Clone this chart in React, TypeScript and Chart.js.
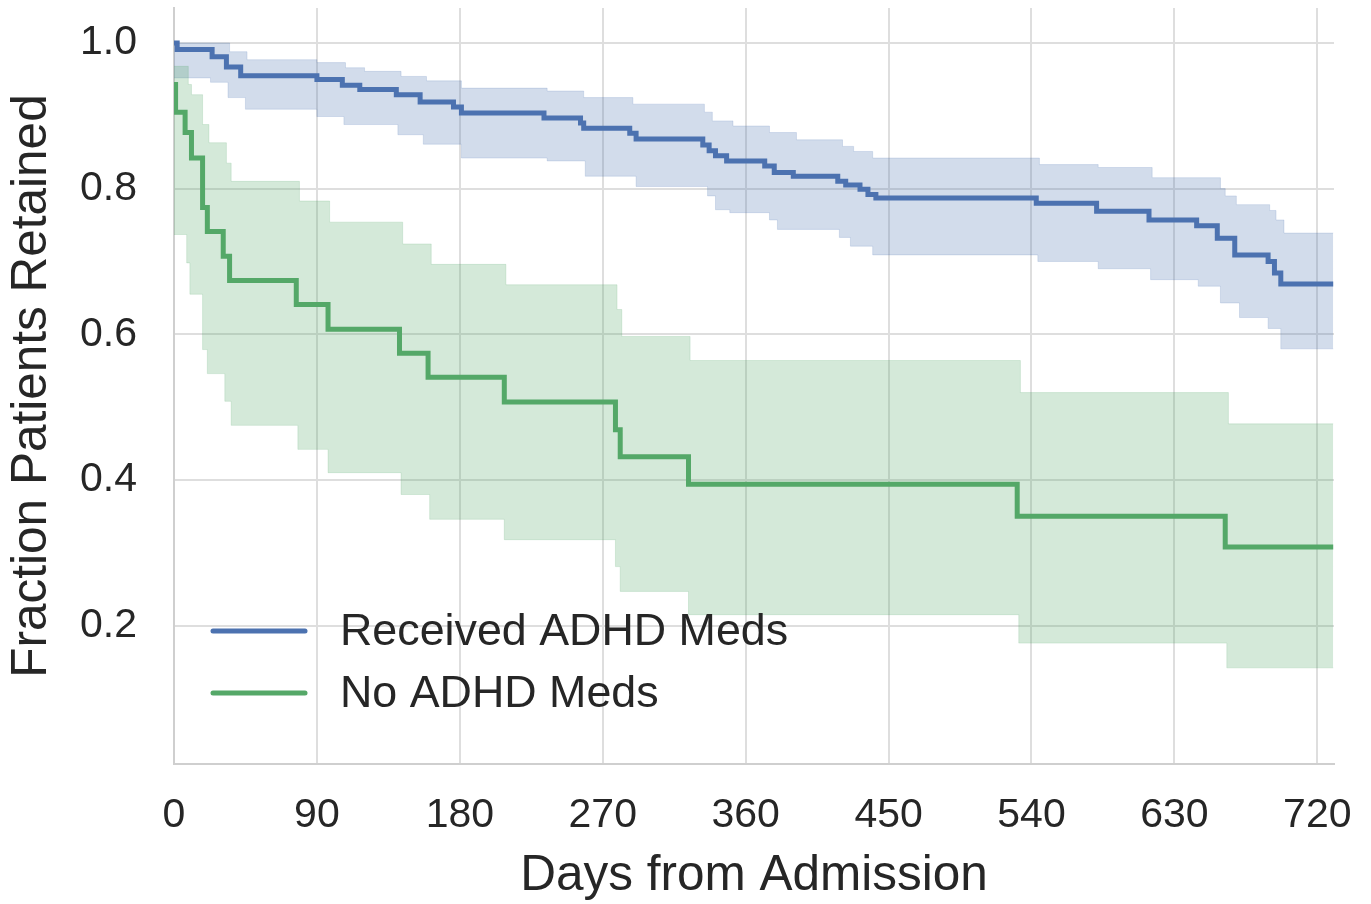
import React, { useEffect, useRef } from 'react';
import { Chart, registerables } from 'chart.js';

Chart.register(...registerables);

// ---- data ----
const xTicks = [0, 90, 180, 270, 360, 450, 540, 630, 720];
const yTicks = [0.2, 0.4, 0.6, 0.8, 1.0];
const seriesLabels = ['Received ADHD Meds', 'No ADHD Meds'];

const medsTimes = [0, 2, 24, 33, 42, 90, 106, 117, 140, 155, 176, 181, 233, 256, 258, 287, 291, 333, 337, 341, 348, 372, 378, 390, 418, 423, 432, 437, 442, 543, 581, 614, 644, 657, 668, 689, 693, 697, 730];
const medsSurvival = [1.0, 0.991, 0.981, 0.967, 0.955, 0.95, 0.942, 0.936, 0.929, 0.919, 0.912, 0.904, 0.897, 0.89, 0.883, 0.876, 0.868, 0.86, 0.852, 0.845, 0.838, 0.831, 0.822, 0.817, 0.81, 0.805, 0.799, 0.792, 0.787, 0.78, 0.769, 0.757, 0.749, 0.732, 0.709, 0.7, 0.684, 0.669, 0.669];

const medsUpperTimes = [0, 35, 46, 90, 108, 120, 143, 159, 181, 235, 258, 289, 334, 339, 352, 375, 392, 421, 428, 440, 545, 582, 616, 659, 662, 669, 690, 694, 699, 730];
const medsUpper = [1.0, 0.988, 0.977, 0.973, 0.966, 0.961, 0.954, 0.948, 0.938, 0.934, 0.925, 0.916, 0.905, 0.893, 0.886, 0.877, 0.867, 0.858, 0.851, 0.842, 0.833, 0.829, 0.815, 0.8, 0.79, 0.778, 0.77, 0.757, 0.739, 0.739];

const medsLowerTimes = [0, 23, 34, 45, 90, 107, 141, 157, 181, 235, 259, 291, 336, 341, 350, 375, 380, 419, 426, 440, 544, 582, 615, 645, 659, 671, 689, 697, 730];
const medsLower = [0.952, 0.946, 0.925, 0.909, 0.899, 0.888, 0.874, 0.861, 0.842, 0.838, 0.817, 0.803, 0.79, 0.771, 0.767, 0.757, 0.744, 0.733, 0.721, 0.709, 0.7, 0.69, 0.675, 0.666, 0.643, 0.623, 0.608, 0.58, 0.58];

const noMedsTimes = [0, 1, 7, 11, 18, 21, 31, 35, 77, 97, 142, 160, 208, 278, 281, 324, 531, 662, 730];
const noMedsSurvival = [0.943, 0.905, 0.877, 0.842, 0.774, 0.741, 0.707, 0.674, 0.641, 0.607, 0.574, 0.541, 0.507, 0.469, 0.432, 0.394, 0.35, 0.308, 0.308];

const noMedsUpperTimes = [0, 9, 11, 18, 22, 33, 36, 79, 98, 144, 162, 209, 279, 282, 325, 533, 664, 730];
const noMedsUpper = [0.968, 0.943, 0.929, 0.888, 0.863, 0.835, 0.81, 0.783, 0.754, 0.724, 0.696, 0.668, 0.634, 0.597, 0.564, 0.52, 0.477, 0.477];

const noMedsLowerTimes = [0, 8, 10, 18, 21, 32, 36, 78, 97, 143, 161, 208, 278, 281, 324, 532, 663, 730];
const noMedsLower = [0.737, 0.698, 0.655, 0.579, 0.546, 0.508, 0.475, 0.442, 0.41, 0.38, 0.346, 0.318, 0.281, 0.247, 0.215, 0.176, 0.142, 0.142];

// ---- styles ----
const FONT = "'Liberation Sans', Arial, Helvetica, sans-serif";
const TEXT = '#262626';
const BLUE = '#4C72B0';
const GREEN = '#55A868';
const BLUE_BAND = 'rgba(76,114,176,0.25)';
const GREEN_BAND = 'rgba(85,168,104,0.25)';
const GRID = '#dedede';
const SPINE = '#cfcfcf';

const pts = (xs: number[], ys: number[]) => xs.map((x, i) => ({ x, y: ys[i] }));

const legendPlugin = {
  id: 'kmLegend',
  afterDraw(chart: any) {
    const { ctx, chartArea } = chart;
    const colors = [BLUE, GREEN];
    const rows = [chartArea.bottom - 133, chartArea.bottom - 71];
    ctx.save();
    seriesLabels.forEach((label, i) => {
      const y = rows[i];
      ctx.strokeStyle = colors[i];
      ctx.lineWidth = 5;
      ctx.lineCap = 'round';
      ctx.beginPath();
      ctx.moveTo(chartArea.left + 39, y);
      ctx.lineTo(chartArea.left + 131, y);
      ctx.stroke();
      ctx.fillStyle = TEXT;
      ctx.font = `44.8px ${FONT}`;
      ctx.textBaseline = 'middle';
      ctx.textAlign = 'left';
      ctx.fillText(label, chartArea.left + 166, y + 2);
    });
    ctx.restore();
  },
};

export default function App() {
  const ref = useRef<HTMLCanvasElement | null>(null);

  useEffect(() => {
    document.body.style.margin = '0';
    if (!ref.current) return;
    const band = (data: any, color: string, edge: string, fill: any) => ({
      data,
      stepped: true,
      fill,
      backgroundColor: color,
      borderColor: edge,
      borderWidth: 1,
      pointRadius: 0,
      tension: 0,
    });
    const chart = new Chart(ref.current, {
      type: 'line',
      data: {
        datasets: [
          band(pts(noMedsUpperTimes, noMedsUpper), GREEN_BAND, 'rgba(85,168,104,0.18)', '+1'),
          band(pts(noMedsLowerTimes, noMedsLower), GREEN_BAND, 'rgba(85,168,104,0.18)', false),
          band(pts(medsUpperTimes, medsUpper), BLUE_BAND, 'rgba(76,114,176,0.18)', '+1'),
          band(pts(medsLowerTimes, medsLower), BLUE_BAND, 'rgba(76,114,176,0.18)', false),
          {
            label: seriesLabels[0],
            data: pts(medsTimes, medsSurvival),
            stepped: true,
            fill: false,
            borderColor: BLUE,
            borderWidth: 5,
            pointRadius: 0,
          },
          {
            label: seriesLabels[1],
            data: pts(noMedsTimes, noMedsSurvival),
            stepped: true,
            fill: false,
            borderColor: GREEN,
            borderWidth: 5,
            pointRadius: 0,
          },
        ],
      },
      options: {
        animation: false,
        responsive: false,
        devicePixelRatio: 1,
        events: [],
        layout: { padding: { top: 8, right: 37, left: 0, bottom: 0 } },
        plugins: {
          legend: { display: false },
          tooltip: { enabled: false },
          title: { display: false },
        },
        scales: {
          x: {
            type: 'linear',
            min: 0,
            max: 730.5,
            afterBuildTicks: (s: any) => {
              s.ticks = xTicks.map((v) => ({ value: v }));
            },
            afterFit: (s: any) => {
              s.height = 140;
              s.paddingLeft = 0;
              s.paddingRight = 0;
              s.paddingTop = 0;
              s.paddingBottom = 0;
            },
            grid: { color: GRID, lineWidth: 2, drawTicks: false },
            border: { display: true, color: SPINE, width: 2 },
            ticks: {
              padding: 27,
              color: TEXT,
              font: { family: FONT, size: 41 },
              maxRotation: 0,
              autoSkip: false,
              callback: (v: any) => String(v),
            },
            title: {
              display: true,
              text: 'Days from Admission',
              color: TEXT,
              font: { family: FONT, size: 49.5, lineHeight: 1.12 },
              padding: { top: 0, bottom: 0 },
            },
          },
          y: {
            type: 'linear',
            min: 0.01,
            max: 1.048,
            afterBuildTicks: (s: any) => {
              s.ticks = yTicks.map((v) => ({ value: v }));
            },
            afterFit: (s: any) => {
              s.width = 174;
              s.paddingLeft = 0;
              s.paddingRight = 0;
              s.paddingTop = 0;
              s.paddingBottom = 0;
            },
            grid: { color: GRID, lineWidth: 2, drawTicks: false },
            border: { display: true, color: SPINE, width: 2 },
            ticks: {
              padding: 37,
              color: TEXT,
              font: { family: FONT, size: 41 },
              autoSkip: false,
              callback: (v: any) => Number(v).toFixed(1),
            },
            title: {
              display: true,
              text: 'Fraction Patients Retained',
              color: TEXT,
              font: { family: FONT, size: 49.5 },
              padding: { top: 3, bottom: 0 },
            },
          },
        },
      },
      plugins: [legendPlugin],
    } as any);
    return () => chart.destroy();
  }, []);

  return (
    <div style={{ width: 1371, height: 904, background: '#fff' }}>
      <canvas ref={ref} width={1371} height={904} style={{ display: 'block' }} />
    </div>
  );
}
